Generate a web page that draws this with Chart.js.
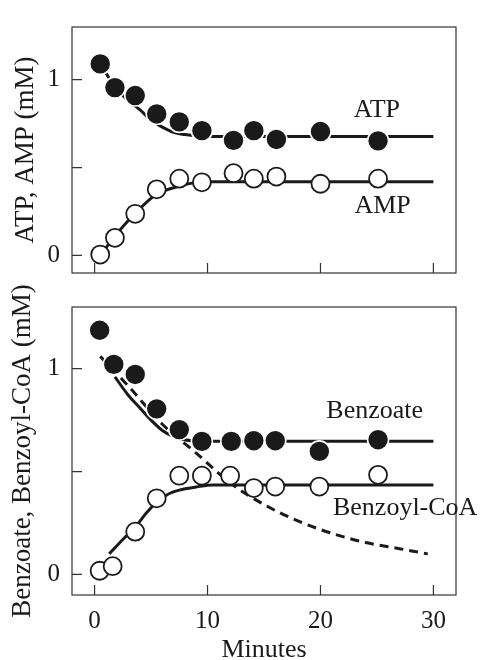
<!DOCTYPE html>
<html>
<head>
<meta charset="utf-8">
<script src="https://cdn.jsdelivr.net/npm/chart.js@4.4.1/dist/chart.umd.min.js"></script>
<style>
  body { margin: 0; background: #fff; }
  #wrap { position: relative; width: 480px; height: 660px; }
  canvas { position: absolute; left: 0; }
  #topChart { top: 0; }
  #bottomChart { top: 280px; }
</style>
</head>
<body>
<div id="wrap">
  <canvas id="topChart" width="480" height="300"></canvas>
  <canvas id="bottomChart" width="480" height="380"></canvas>
</div>
<script>
// Axis ticks
var xTicks = [0, 10, 20, 30];
var yTicks = [0, 0.5, 1];
var yTickLabels = ['0', '', '1'];

// Top panel: measured ATP / AMP (mM) vs minutes
var topMinutes = [0.5, 1.8, 3.6, 5.5, 7.5, 9.5, 12.3, 14.1, 16.1, 20, 25.1];
var atpValues = [1.09, 0.955, 0.91, 0.805, 0.76, 0.71, 0.655, 0.71, 0.66, 0.705, 0.652];
var ampValues = [0.005, 0.10, 0.237, 0.376, 0.437, 0.416, 0.468, 0.437, 0.449, 0.408, 0.437];

// Top panel: fitted curves
var atpFitMinutes = [0.5, 1.8, 3, 4, 5, 6, 7, 8, 9, 10, 30];
var atpFitValues = [1.09, 0.96, 0.88, 0.83, 0.77, 0.73, 0.70, 0.688, 0.68, 0.677, 0.677];
var ampFitMinutes = [0.5, 1.8, 3.6, 5.5, 7, 8.5, 10, 30];
var ampFitValues = [0.0, 0.11, 0.24, 0.35, 0.385, 0.41, 0.42, 0.42];

// Bottom panel: measured benzoate / benzoyl-CoA (mM)
var benzoateMinutes = [0.45, 1.7, 3.6, 5.5, 7.5, 9.5, 12.1, 14.1, 16, 19.9, 25.1];
var benzoateValues = [1.187, 1.021, 0.972, 0.805, 0.704, 0.647, 0.647, 0.65, 0.65, 0.598, 0.655];
var benzoylMinutes = [0.45, 1.6, 3.6, 5.5, 7.5, 9.5, 12, 14.1, 16, 19.9, 25.1];
var benzoylValues = [0.018, 0.04, 0.208, 0.37, 0.48, 0.48, 0.48, 0.42, 0.427, 0.427, 0.484];

// Bottom panel: fitted curves
var benzoateFitMinutes = [1.8, 3, 4, 5, 6, 7, 8, 9, 30];
var benzoateFitValues = [0.96, 0.87, 0.81, 0.75, 0.70, 0.67, 0.655, 0.648, 0.648];
var benzoateDecayMinutes = [0.5, 3, 6, 9, 12, 15, 18, 21, 24, 27, 29.5];
var benzoateDecayValues = [1.06, 0.915, 0.73, 0.59, 0.445, 0.34, 0.26, 0.20, 0.155, 0.125, 0.10];
var benzoylFitMinutes = [1.3, 2.5, 3.6, 4.6, 5.5, 6.5, 7.5, 9, 10.5, 30];
var benzoylFitValues = [0.10, 0.17, 0.23, 0.30, 0.35, 0.39, 0.41, 0.425, 0.435, 0.435];

var ink = '#1a1a1a';
var serif = '"Liberation Serif", "Times New Roman", serif';

// Zet x- en y-lijsten om naar punten
function punten(xs, ys) {
    return xs.map(function (x, i) { return { x: x, y: ys[i] }; });
}

function markerSet(data, filled) {
    return {
        data: data,
        showLine: false,
        order: 0,
        pointRadius: filled ? 10.5 : 9,
        pointHoverRadius: filled ? 10.5 : 9,
        pointBackgroundColor: filled ? ink : '#fff',
        pointBorderColor: filled ? '#fff' : ink,
        pointBorderWidth: filled ? 1.6 : 1.8
    };
}

function curveSet(data, dashed) {
    return {
        data: data,
        showLine: true,
        order: 1,
        pointRadius: 0,
        borderColor: ink,
        borderWidth: 3,
        borderDash: dashed ? [9, 6] : [],
        cubicInterpolationMode: 'monotone',
        fill: false
    };
}

// Kader en naar binnen gerichte streepjes
var frameAndTicks = {
    id: 'frameAndTicks',
    beforeDatasetsDraw: function (chart) {
        var ctx = chart.ctx, a = chart.chartArea;
        var xs = chart.scales.x, ys = chart.scales.y;
        ctx.save();
        ctx.strokeStyle = '#333';
        ctx.lineWidth = 1.2;
        ctx.strokeRect(a.left, a.top, a.right - a.left, a.bottom - a.top);
        ctx.beginPath();
        xs.ticks.forEach(function (t) {
            var px = xs.getPixelForValue(t.value);
            ctx.moveTo(px, a.bottom);
            ctx.lineTo(px, a.bottom - 10);
        });
        ys.ticks.forEach(function (t) {
            var py = ys.getPixelForValue(t.value);
            ctx.moveTo(a.left, py);
            ctx.lineTo(a.left + 10, py);
        });
        ctx.stroke();
        ctx.restore();
    }
};

// Tekstlabels bij de curves
var curveLabels = {
    id: 'curveLabels',
    afterDraw: function (chart, args, opts) {
        var ctx = chart.ctx, xs = chart.scales.x, ys = chart.scales.y;
        ctx.save();
        ctx.font = '26px ' + serif;
        ctx.fillStyle = ink;
        ctx.textAlign = 'center';
        ctx.textBaseline = 'alphabetic';
        (opts.items || []).forEach(function (l) {
            ctx.fillText(l.text, xs.getPixelForValue(l.x), ys.getPixelForValue(l.y));
        });
        ctx.restore();
    }
};

function maakSchalen(showX, xAxisHeight, yTitle, yTitlePad) {
    return {
        x: {
            type: 'linear', min: -2, max: 32,
            grid: { display: false, drawTicks: false },
            border: { display: false },
            afterBuildTicks: function (s) { s.ticks = xTicks.map(function (v) { return { value: v }; }); },
            afterFit: function (s) { s.height = xAxisHeight; },
            ticks: { display: showX, color: ink, font: { family: serif, size: 25 }, padding: 11, maxRotation: 0 },
            title: {
                display: showX, text: 'Minutes', color: ink,
                font: { family: serif, size: 26, lineHeight: 0.75 },
                padding: { top: 0, bottom: 0 }
            }
        },
        y: {
            type: 'linear', min: -0.1, max: 1.3,
            grid: { display: false, drawTicks: false },
            border: { display: false },
            afterBuildTicks: function (s) { s.ticks = yTicks.map(function (v) { return { value: v }; }); },
            afterFit: function (s) { s.width = 72; },
            ticks: {
                color: ink, font: { family: serif, size: 25 }, padding: 12,
                callback: function (v, i) { return yTickLabels[i]; }
            },
            title: {
                display: true, text: yTitle, color: ink,
                font: { family: serif, size: 27 },
                padding: { top: yTitlePad, bottom: 0 }
            }
        }
    };
}

function tekenGrafiek(id, datasets, scales, padTop, labels) {
    var ctx = document.getElementById(id).getContext('2d');
    return new Chart(ctx, {
        type: 'scatter',
        data: { datasets: datasets },
        options: {
            responsive: false,
            animation: false,
            layout: { padding: { top: padTop, right: 24, left: 0, bottom: 0 } },
            scales: scales,
            plugins: {
                legend: { display: false },
                tooltip: { enabled: false },
                curveLabels: { items: labels }
            }
        },
        plugins: [frameAndTicks, curveLabels]
    });
}

tekenGrafiek('topChart', [
    markerSet(punten(topMinutes, atpValues), true),
    markerSet(punten(topMinutes, ampValues), false),
    curveSet(punten(atpFitMinutes, atpFitValues), false),
    curveSet(punten(ampFitMinutes, ampFitValues), false)
], maakSchalen(false, 3, 'ATP, AMP (mM)', 10), 10, [
    { text: 'ATP', x: 25.0, y: 0.79 },
    { text: 'AMP', x: 25.5, y: 0.239 }
]);

tekenGrafiek('bottomChart', [
    markerSet(punten(benzoateMinutes, benzoateValues), true),
    markerSet(punten(benzoylMinutes, benzoylValues), false),
    curveSet(punten(benzoateFitMinutes, benzoateFitValues), false),
    curveSet(punten(benzoateDecayMinutes, benzoateDecayValues), true),
    curveSet(punten(benzoylFitMinutes, benzoylFitValues), false)
], maakSchalen(true, 65, 'Benzoate, Benzoyl-CoA (mM)', 7), 27, [
    { text: 'Benzoate', x: 24.8, y: 0.762 },
    { text: 'Benzoyl-CoA', x: 27.5, y: 0.289 }
]);
</script>
</body>
</html>
